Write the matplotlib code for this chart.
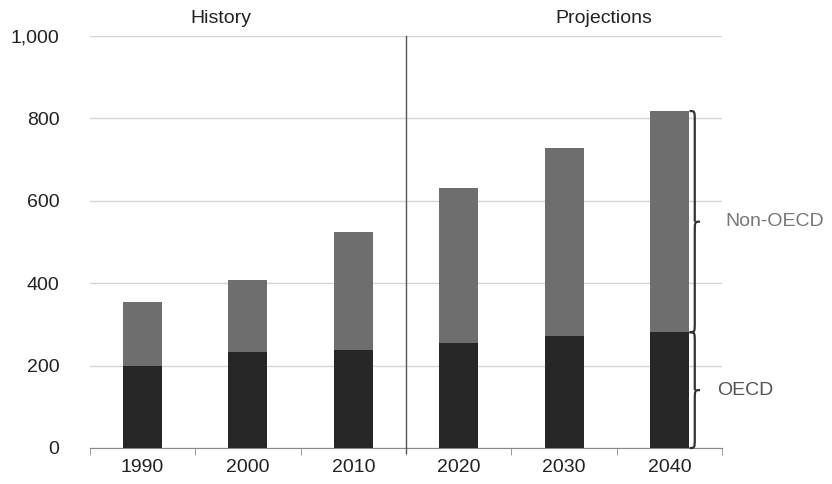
import matplotlib.pyplot as plt
from matplotlib.path import Path
from matplotlib.patches import PathPatch
from matplotlib.ticker import FuncFormatter

plt.rcParams['font.family'] = ['Liberation Sans', 'DejaVu Sans']

years = ['1990', '2000', '2010', '2020', '2030', '2040']
oecd = [199, 233, 238, 255, 271, 281]
non_oecd_total = [354, 408, 525, 631, 729, 818]
non_oecd = [t - o for t, o in zip(non_oecd_total, oecd)]

fig = plt.figure(figsize=(8.32, 4.84), dpi=100)
ax = fig.add_axes([0.108, 0.0744, 0.76, 0.851])

x = list(range(len(years)))
ax.bar(x, oecd, width=0.37, color='#262626', zorder=3)
ax.bar(x, non_oecd, bottom=oecd, width=0.37, color='#6e6e6e', zorder=3)

ax.set_xlim(-0.5, 5.5)
ax.set_ylim(0, 1000)
ax.set_yticks(range(0, 1001, 200))
ax.yaxis.set_major_formatter(FuncFormatter(lambda v, p: f'{int(v):,}'))
ax.grid(axis='y', color='#d6d6d6', linewidth=1, zorder=0)
ax.set_xticks(x)
ax.set_xticklabels(years)
ax.set_xticks([i - 0.5 for i in range(len(years) + 1)], minor=True)
ax.tick_params(axis='x', which='major', length=0, pad=8, labelsize=14, colors='#222222')
ax.tick_params(axis='x', which='minor', length=5, color='#888888', direction='out')
ax.tick_params(axis='y', length=0, pad=22, labelsize=14, colors='#222222')
for s in ['top', 'right', 'left']:
    ax.spines[s].set_visible(False)
ax.spines['bottom'].set_color('#888888')

# history / projections divider
ax.plot([2.5, 2.5], [-12, 1000], color='#555555', linewidth=1, clip_on=False, zorder=4)
ax.text(0.74, 1022, 'History', ha='center', va='bottom', fontsize=14, color='#222222')
ax.text(4.38, 1022, 'Projections', ha='center', va='bottom', fontsize=14, color='#222222')


def brace(y0, y1, x0=5.19, w=0.1, r=25):
    ym = (y0 + y1) / 2
    xm = x0 + w * 0.5
    verts = [(x0, y0), (xm, y0), (xm, y0), (xm, y0 + r),
             (xm, ym - r),
             (xm, ym), (xm, ym), (x0 + w, ym),
             (xm, ym), (xm, ym), (xm, ym + r),
             (xm, y1 - r),
             (xm, y1), (xm, y1), (x0, y1)]
    codes = [Path.MOVETO, Path.CURVE4, Path.CURVE4, Path.CURVE4,
             Path.LINETO,
             Path.CURVE4, Path.CURVE4, Path.CURVE4,
             Path.MOVETO, Path.CURVE4, Path.CURVE4,
             Path.LINETO,
             Path.CURVE4, Path.CURVE4, Path.CURVE4]
    ax.add_patch(PathPatch(Path(verts, codes), fill=False, edgecolor='#333333',
                           linewidth=1.6, clip_on=False, zorder=5))


brace(0, oecd[-1])
brace(oecd[-1], non_oecd_total[-1])
ax.text(5.53, (oecd[-1] + non_oecd_total[-1]) / 2, 'Non-OECD', ha='left', va='center',
        fontsize=14, color='#777777', clip_on=False)
ax.text(5.45, oecd[-1] / 2, 'OECD', ha='left', va='center',
        fontsize=14, color='#555555', clip_on=False)

fig.savefig('out.png', dpi=100)
